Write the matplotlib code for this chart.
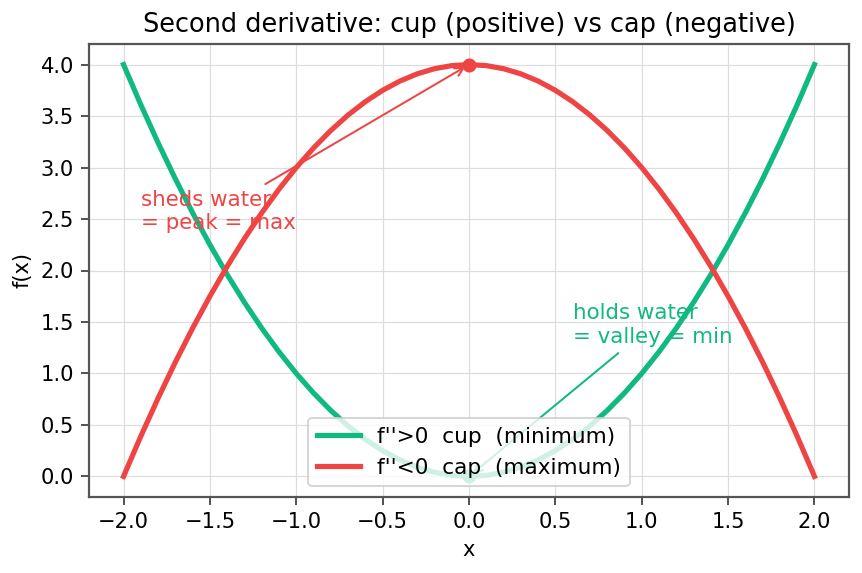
import numpy as np
import matplotlib
matplotlib.use("Agg")
import matplotlib.pyplot as plt

# values (step 0.1)
x_vals = [-2.0, -1.9, -1.8, -1.7, -1.6, -1.5, -1.4, -1.3, -1.2, -1.1, -1.0,
          -0.9, -0.8, -0.7, -0.6, -0.5, -0.4, -0.3, -0.2, -0.1, 0.0,
          0.1, 0.2, 0.3, 0.4, 0.5, 0.6, 0.7, 0.8, 0.9, 1.0,
          1.1, 1.2, 1.3, 1.4, 1.5, 1.6, 1.7, 1.8, 1.9, 2.0]
cup_vals = [4.0, 3.61, 3.24, 2.89, 2.56, 2.25, 1.96, 1.69, 1.44, 1.21, 1.0,
            0.81, 0.64, 0.49, 0.36, 0.25, 0.16, 0.09, 0.04, 0.01, 0.0,
            0.01, 0.04, 0.09, 0.16, 0.25, 0.36, 0.49, 0.64, 0.81, 1.0,
            1.21, 1.44, 1.69, 1.96, 2.25, 2.56, 2.89, 3.24, 3.61, 4.0]
cap_vals = [0.0, 0.39, 0.76, 1.11, 1.44, 1.75, 2.04, 2.31, 2.56, 2.79, 3.0,
            3.19, 3.36, 3.51, 3.64, 3.75, 3.84, 3.91, 3.96, 3.99, 4.0,
            3.99, 3.96, 3.91, 3.84, 3.75, 3.64, 3.51, 3.36, 3.19, 3.0,
            2.79, 2.56, 2.31, 2.04, 1.75, 1.44, 1.11, 0.76, 0.39, 0.0]
min_pt = (0.0, 0.0)
max_pt = (0.0, 4.0)

GREEN = "#10b981"
RED = "#ef4444"

plt.rcParams["font.family"] = "DejaVu Sans"
fig = plt.figure(figsize=(862 / 144, 573 / 144), dpi=144)
ax = fig.add_axes([89 / 862, 1 - 497 / 573, (849 - 89) / 862, (497 - 44) / 573])

ax.plot(x_vals, cup_vals, color=GREEN, lw=2.6, label="f''>0  cup  (minimum)")
ax.plot(x_vals, cap_vals, color=RED, lw=2.6, label="f''<0  cap  (maximum)")
ax.plot(*min_pt, "o", color=GREEN, ms=6)
ax.plot(*max_pt, "o", color=RED, ms=6)

ax.annotate("holds water\n= valley = min", xy=min_pt, xytext=(0.6, 1.3),
            color=GREEN, fontsize=10.7,
            arrowprops=dict(arrowstyle="->", color=GREEN, lw=1))
ax.annotate("sheds water\n= peak = max", xy=max_pt, xytext=(-1.9, 2.4),
            color=RED, fontsize=10.7,
            arrowprops=dict(arrowstyle="->", color=RED, lw=1))

ax.set_xlim(-2.2, 2.2)
ax.set_ylim(-0.2, 4.2)
ax.set_xlabel("x", fontsize=10.5)
ax.set_ylabel("f(x)", fontsize=10.5)
ax.set_title("Second derivative: cup (positive) vs cap (negative)", fontsize=12.8)
ax.grid(True, color="#dddddd", lw=0.6)
ax.tick_params(labelsize=10.5, color="#555555", length=4, width=1)
for s in ax.spines.values():
    s.set_color("#555555")
    s.set_linewidth(1.1)

ax.legend(loc="lower center", fontsize=10.8, framealpha=0.8)

fig.savefig("out.png", dpi=144)
